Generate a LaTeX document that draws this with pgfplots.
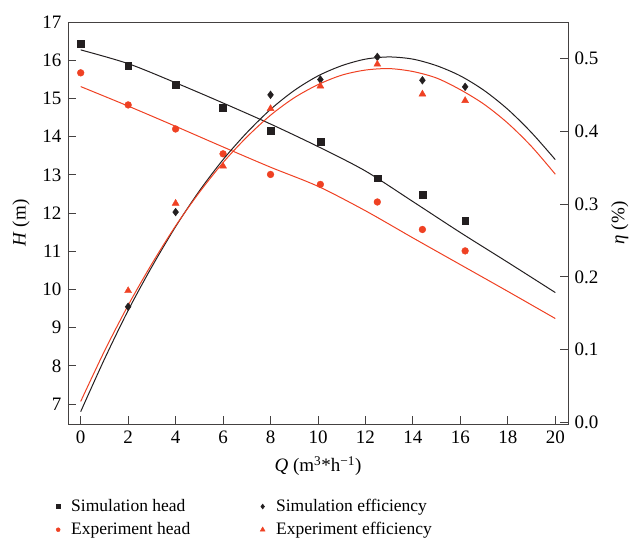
\documentclass[border=0pt]{standalone}
\usepackage{pgfplots}
\pgfplotsset{compat=1.18}
\usepackage{fontspec}
\setmainfont{Liberation Serif}
\definecolor{myred}{RGB}{239,65,35}
\definecolor{myblack}{RGB}{35,31,32}
\begin{document}
\fontsize{19}{22}\selectfont
\begin{tikzpicture}
\useasboundingbox (0,0) rectangle (632pt,544pt);
\pgfplotsset{every axis/.append style={
  scale only axis, width=500pt, height=402pt,
  xmin=-0.535, xmax=20.535,
  font=\fontsize{19}{22}\selectfont,
  /pgf/number format/assume math mode=true,
  tick align=inside,
  major tick length=8pt,
  tick style={line width=0.9pt, color=myblack!85},
  axis line style={line width=0.9pt, color=myblack!85},
  legend image code/.code={\draw[#1] plot coordinates {(0.15cm,0cm)};},
}}
\begin{axis}[
  at={(68pt,120pt)}, anchor=south west,
  ymin=6.48, ymax=17,
  ytick={7,8,9,10,11,12,13,14,15,16,17},
  xtick={0,2,4,6,8,10,12,14,16,18,20},
  xtick pos=bottom, ytick pos=left,
  xlabel={\textit{Q} (m\textsuperscript{3}*h\textsuperscript{−1})},
  ylabel={\textit{H} (m)},
  legend columns=2,
  legend style={at={(-0.024,-0.181)}, anchor=north west, draw=none, fill=none,
    inner sep=0pt, font=\fontsize{17.5}{20}\selectfont,
    /tikz/every odd column/.append style={column sep=9pt},
    /tikz/every even column/.append style={column sep=68pt},
    row sep=4pt},
  legend cell align=left,
]
% fitted curves
\addplot[myblack, line width=1pt, smooth, forget plot] coordinates {
(0,16.27) (2,15.91) (4,15.41) (6,14.88) (8,14.33) (10,13.74) (12,13.10) (14,12.30) (16,11.49) (18,10.71) (20,9.92)};
\addplot[myred, line width=1pt, smooth, forget plot] coordinates {
(0,15.31) (2,14.80) (4,14.27) (6,13.73) (8,13.20) (10,12.70) (12,12.06) (14,11.35) (16,10.65) (18,9.95) (20,9.24)};
% data
\addplot[only marks, mark=square*, mark size=3.4pt, myblack, forget plot] coordinates {
(0,16.43) (2,15.86) (4,15.36) (6,14.76) (8,14.16) (10.1,13.87) (12.5,12.91) (14.4,12.49) (16.2,11.80)};
\addplot[only marks, mark=*, mark size=3.4pt, myred, forget plot] coordinates {
(0,15.67) (2,14.83) (4,14.20) (6,13.55) (8,13.01) (10.1,12.75) (12.5,12.29) (14.4,11.57) (16.2,11.01)};
% legend
\addlegendimage{only marks, mark=square*, mark size=2pt, myblack}
\addlegendentry{Simulation head}
\addlegendimage{only marks, mark=diamond*, mark size=2.5pt, myblack}
\addlegendentry{Simulation efficiency}
\addlegendimage{only marks, mark=*, mark size=2pt, myred}
\addlegendentry{Experiment head}
\addlegendimage{only marks, mark=triangle*, mark size=2.8pt, myred}
\addlegendentry{Experiment efficiency}
\end{axis}
\begin{axis}[
  at={(68pt,120pt)}, anchor=south west,
  ymin=-0.002, ymax=0.55,
  axis x line=none, axis y line*=right, ytick pos=right,
  ytick={0,0.1,0.2,0.3,0.4,0.5},
  yticklabel style={/pgf/number format/.cd, fixed, fixed zerofill, precision=1},
  ylabel={\textit{η} (\%)},
]
\addplot[myblack, line width=1pt, smooth] coordinates {
(0,0.015) (1,0.087) (2,0.154) (3,0.214) (4,0.269) (5,0.318) (6,0.361) (7,0.398) (8,0.430) (9,0.456) (10,0.476) (11,0.490) (12,0.499) (13,0.502) (14,0.499) (15,0.490) (16,0.476) (17,0.456) (18,0.430) (19,0.398) (20,0.361)};
\addplot[myred, line width=1pt, smooth] coordinates {
(0,0.029) (1,0.098) (2,0.161) (3,0.218) (4,0.270) (5,0.316) (6,0.357) (7,0.392) (8,0.422) (9,0.446) (10,0.464) (11,0.477) (12,0.484) (13,0.486) (14,0.482) (15,0.473) (16,0.457) (17,0.437) (18,0.411) (19,0.379) (20,0.341)};
\addplot[only marks, mark=diamond*, mark size=3.9pt, myblack] coordinates {
(2,0.159) (4,0.289) (8,0.450) (10.1,0.471) (12.5,0.502) (14.4,0.470) (16.2,0.461)};
\addplot[only marks, mark=triangle*, mark size=4pt, myred] coordinates {
(2,0.181) (4,0.301) (6,0.352) (8,0.431) (10.1,0.462) (12.5,0.492) (14.4,0.451) (16.2,0.442)};
\end{axis}
\end{tikzpicture}
\end{document}
